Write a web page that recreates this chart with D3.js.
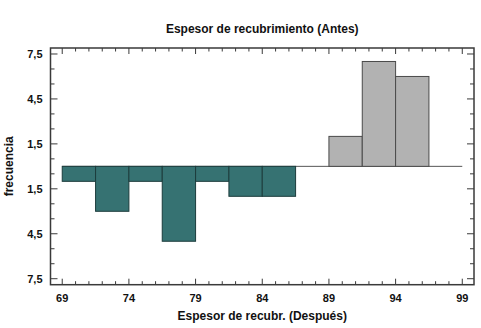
<!DOCTYPE html>
<html>
<head>
<meta charset="utf-8">
<script src="https://cdn.jsdelivr.net/npm/d3@7"></script>
<style>
body { margin: 0; background: #fff; }
text { font-family: "Liberation Sans", Arial, sans-serif; font-weight: bold; fill: #111; }
</style>
</head>
<body>
<svg id="chart" width="481" height="328"></svg>
<script>
// bins of 2.5 from 69 to 99
var binStarts = [69, 71.5, 74, 76.5, 79, 81.5, 84, 86.5, 89, 91.5, 94, 96.5];
var antes = [0, 0, 0, 0, 0, 0, 0, 0, 2, 7, 6, 0];
var despues = [1, 3, 1, 5, 1, 2, 2, 0, 0, 0, 0, 0];
var binWidth = 2.5;
var xTicks = [69, 74, 79, 84, 89, 94, 99];
var yTicks = [-7.5, -4.5, -1.5, 1.5, 4.5, 7.5];

var svg = d3.select("#chart");
var padL = 50.5, padR = 474, padT = 48, padB = 284.7;

var xScale = d3.scaleLinear().domain([68.12, 99.88]).range([padL, padR]);
var yScale = d3.scaleLinear().domain([-7.9, 7.9]).range([padB, padT]);

var fmt = function(v) { return d3.format(".1f")(Math.abs(v)).replace(".", ","); };

var g = svg.append("g");

// zero line
g.append("line")
	.attr("x1", xScale(69)).attr("x2", xScale(99))
	.attr("y1", yScale(0)).attr("y2", yScale(0))
	.attr("stroke", "#555").attr("stroke-width", 1);

// upper bars (Antes)
g.selectAll(".antes")
	.data(binStarts.map(function(d, i) { return {x: d, v: antes[i]}; }).filter(function(d) { return d.v > 0; }))
	.enter().append("rect")
		.attr("class", "antes")
		.attr("x", function(d) { return xScale(d.x); })
		.attr("width", function(d) { return xScale(d.x + binWidth) - xScale(d.x); })
		.attr("y", function(d) { return yScale(d.v); })
		.attr("height", function(d) { return yScale(0) - yScale(d.v); })
		.attr("fill", "#b2b2b2")
		.attr("stroke", "#4a4a4a")
		.attr("stroke-width", 1);

// lower bars (Después)
g.selectAll(".despues")
	.data(binStarts.map(function(d, i) { return {x: d, v: despues[i]}; }).filter(function(d) { return d.v > 0; }))
	.enter().append("rect")
		.attr("class", "despues")
		.attr("x", function(d) { return xScale(d.x); })
		.attr("width", function(d) { return xScale(d.x + binWidth) - xScale(d.x); })
		.attr("y", yScale(0))
		.attr("height", function(d) { return yScale(-d.v) - yScale(0); })
		.attr("fill", "#367272")
		.attr("stroke", "#1c3c3c")
		.attr("stroke-width", 1);

// frame
g.append("rect")
	.attr("x", padL).attr("y", padT)
	.attr("width", padR - padL).attr("height", padB - padT)
	.attr("fill", "none").attr("stroke", "#3a3a3a").attr("stroke-width", 1.5);

// ticks inside the frame, all four sides
var xMinor = d3.range(69, 100, 1);
var yMinor = d3.range(-7.5, 7.6, 1);
var tickCol = "#3a3a3a";

xMinor.forEach(function(v) {
	var len = (v - 69) % 5 === 0 ? 6 : 3.5;
	g.append("line").attr("x1", xScale(v)).attr("x2", xScale(v))
		.attr("y1", padB).attr("y2", padB - len).attr("stroke", tickCol);
	g.append("line").attr("x1", xScale(v)).attr("x2", xScale(v))
		.attr("y1", padT).attr("y2", padT + len).attr("stroke", tickCol);
});
yMinor.forEach(function(v) {
	var len = yTicks.indexOf(v) >= 0 ? 7 : 4;
	g.append("line").attr("y1", yScale(v)).attr("y2", yScale(v))
		.attr("x1", padL).attr("x2", padL + len).attr("stroke", tickCol);
	g.append("line").attr("y1", yScale(v)).attr("y2", yScale(v))
		.attr("x1", padR).attr("x2", padR - len).attr("stroke", tickCol);
});

// tick labels
g.selectAll(".xlab")
	.data(xTicks)
	.enter().append("text")
		.attr("x", function(d) { return xScale(d); })
		.attr("y", padB + 17)
		.attr("text-anchor", "middle")
		.attr("font-size", 11)
		.text(function(d) { return d; });

g.selectAll(".ylab")
	.data(yTicks)
	.enter().append("text")
		.attr("x", padL - 8)
		.attr("y", function(d) { return yScale(d) + 4; })
		.attr("text-anchor", "end")
		.attr("font-size", 11)
		.text(fmt);

// titles
svg.append("text")
	.attr("x", (padL + padR) / 2).attr("y", 33)
	.attr("text-anchor", "middle").attr("font-size", 12)
	.text("Espesor de recubrimiento (Antes)");

svg.append("text")
	.attr("x", (padL + padR) / 2).attr("y", 320)
	.attr("text-anchor", "middle").attr("font-size", 12)
	.text("Espesor de recubr. (Después)");

svg.append("text")
	.attr("transform", "translate(13," + yScale(0) + ") rotate(-90)")
	.attr("text-anchor", "middle").attr("font-size", 12)
	.text("frecuencia");
</script>
</body>
</html>
